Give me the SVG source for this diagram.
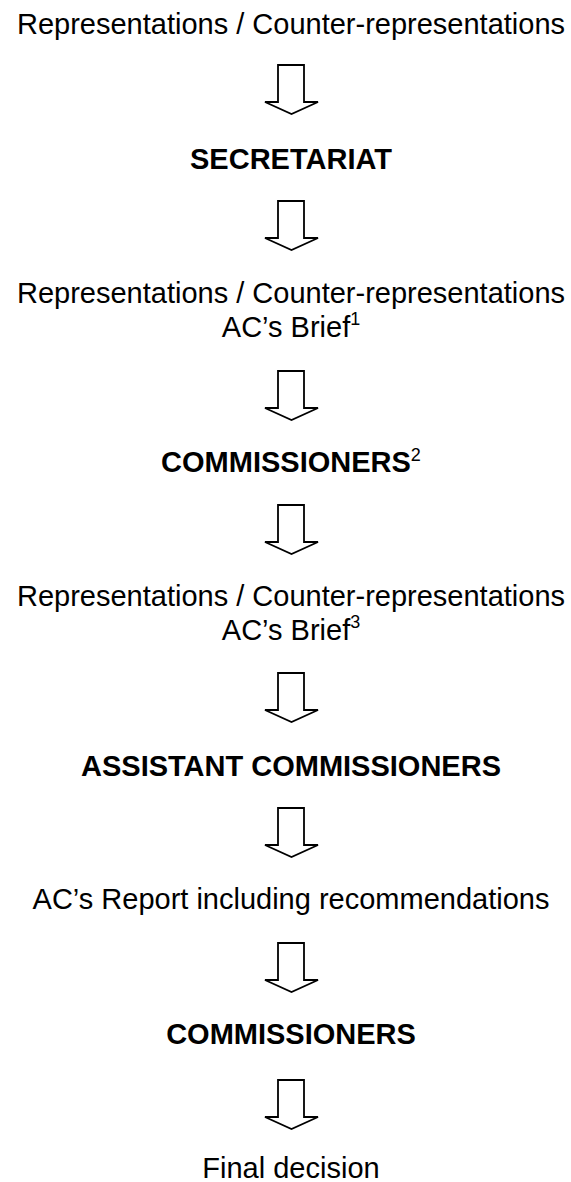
<svg xmlns="http://www.w3.org/2000/svg" width="571" height="1182" viewBox="0 0 571 1182">
<defs>
<style>
text{font-family:"Liberation Sans",Arial,sans-serif;font-size:29px;fill:#000;text-anchor:middle}
.b{font-weight:bold}
.sup{font-size:18px;font-weight:normal}
.arrow{fill:#fff;stroke:#000;stroke-width:1.8;stroke-linejoin:miter}
</style>
<path id="arr" class="arrow" d="M278,0 H304 V37 H318 L291.5,49 L265,37 H278 Z"/>
</defs>
<rect width="571" height="1182" fill="#fff"/>
<g id="n1"><text x="291" y="34">Representations / Counter-representations</text></g>
<g id="n2"><text class="b" x="291" y="169">SECRETARIAT</text></g>
<g id="n3"><text x="291" y="303">Representations / Counter-representations</text><text x="291" y="337">AC’s Brief<tspan class="sup" dy="-12">1</tspan></text></g>
<g id="n4"><text class="b" x="291" y="472">COMMISSIONERS<tspan class="sup" dy="-11">2</tspan></text></g>
<g id="n5"><text x="291" y="606">Representations / Counter-representations</text><text x="291" y="640">AC’s Brief<tspan class="sup" dy="-12">3</tspan></text></g>
<g id="n6"><text class="b" x="291" y="776">ASSISTANT COMMISSIONERS</text></g>
<g id="n7"><text x="291" y="909">AC’s Report including recommendations</text></g>
<g id="n8"><text class="b" x="291" y="1044">COMMISSIONERS</text></g>
<g id="n9"><text x="291" y="1178">Final decision</text></g>
<g id="connectors">
<use href="#arr" y="65"/>
<use href="#arr" y="201"/>
<use href="#arr" y="371"/>
<use href="#arr" y="505"/>
<use href="#arr" y="673"/>
<use href="#arr" y="808"/>
<use href="#arr" y="943"/>
<use href="#arr" y="1080"/>
</g>
</svg>
